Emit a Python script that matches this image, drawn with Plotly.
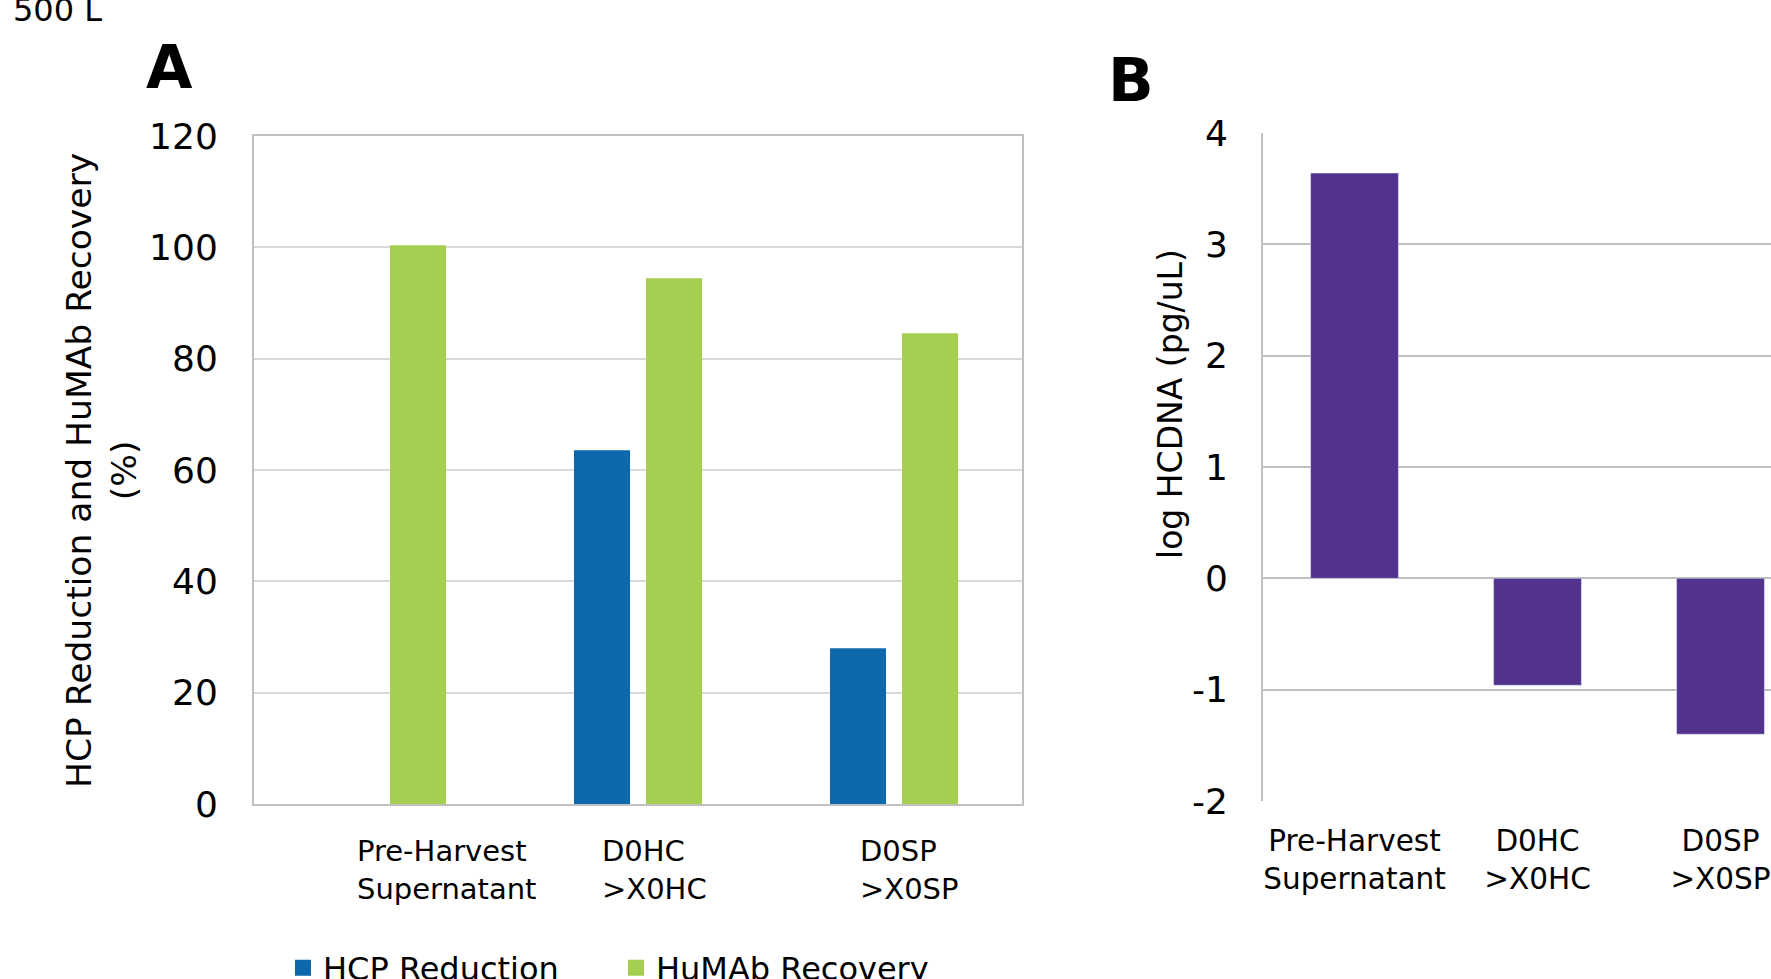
import plotly.graph_objects as go

# ---- data ----
categories = ["Pre-Harvest<br>Supernatant", "D0HC<br>>X0HC", "D0SP<br>>X0SP"]
cat_keys = ["PH", "D0HC", "D0SP"]
hcp_reduction = [None, 63.2, 27.6]
humab_recovery = [100.0, 94.1, 84.2]
log_hcdna = [3.64, -0.96, -1.40]
yticks_a = [0, 20, 40, 60, 80, 100, 120]
yticks_b = [-2, -1, 0, 1, 2, 3, 4]
yticks_b_text = ["-2", "-1", "0", "1", "2", "3", "4"]

W, H = 1771, 979
FONT = "DejaVu Sans"
BLUE = "#1068AC"
GREEN = "#A6CE50"
PURPLE = "#51328C"
GRID_A = "#D9D9D9"
GRID_B = "#BFBFBF"
BORDER = "#BFBFBF"

fig = go.Figure()
fig.add_trace(go.Bar(x=cat_keys, y=hcp_reduction, name="HCP Reduction",
                     marker=dict(color=BLUE, line=dict(color=BLUE, width=4)),
                     xaxis="x", yaxis="y"))
fig.add_trace(go.Bar(x=cat_keys, y=humab_recovery, name="HuMAb Recovery",
                     marker=dict(color=GREEN, line=dict(color=GREEN, width=4)),
                     xaxis="x", yaxis="y"))
fig.add_trace(go.Bar(x=[0, 1, 2], y=log_hcdna, name="log HCDNA",
                     marker_color=PURPLE, xaxis="x2", yaxis="y2",
                     width=0.48, showlegend=False))

def px(v):
    return v / W

def py(v):
    return 1 - v / H

annotations = []
# category labels panel A (left aligned text boxes)
offsets = [-27, -38, -36]
for key, lab, off in zip(cat_keys, categories, offsets):
    annotations.append(dict(x=key, xref="x", y=py(832), yref="paper",
                            text=lab, showarrow=False, xanchor="left",
                            yanchor="top", align="left", xshift=off,
                            font=dict(family=FONT, size=29, color="#000")))
# axis titles
annotations.append(dict(x=px(101), y=py(471), xref="paper", yref="paper",
                        text="HCP Reduction and HuMAb Recovery<br>(%)",
                        textangle=-90, showarrow=False, xanchor="center",
                        yanchor="middle", align="center",
                        font=dict(family=FONT, size=34.5, color="#000")))
annotations.append(dict(x=px(1171), y=py(404), xref="paper", yref="paper",
                        text="log HCDNA (pg/uL)", textangle=-90,
                        showarrow=False, xanchor="center", yanchor="middle",
                        font=dict(family=FONT, size=33, color="#000")))
# panel letters
annotations.append(dict(x=px(144), y=py(67), xref="paper", yref="paper",
                        text="<b>A</b>", showarrow=False, xanchor="left",
                        yanchor="middle",
                        font=dict(family=FONT, size=60, color="#000")))
annotations.append(dict(x=px(1106), y=py(80), xref="paper", yref="paper",
                        text="<b>B</b>", showarrow=False, xanchor="left",
                        yanchor="middle",
                        font=dict(family=FONT, size=60, color="#000")))
annotations.append(dict(x=px(11), y=py(10), xref="paper", yref="paper",
                        text="500 L", showarrow=False, xanchor="left",
                        yanchor="middle",
                        font=dict(family=FONT, size=32, color="#000")))

fig.update_layout(
    width=W, height=H,
    margin=dict(l=0, r=0, t=0, b=0, autoexpand=False),
    paper_bgcolor="white", plot_bgcolor="white",
    barmode="group", bargap=0.4375, bargroupgap=0.2775,
    font=dict(family=FONT, color="#000"),
    showlegend=True,
    legend=dict(orientation="h", x=px(283), y=py(968), xanchor="left",
                yanchor="middle", entrywidth=288, entrywidthmode="pixels",
                font=dict(family=FONT, size=32, color="#000"),
                bgcolor="rgba(0,0,0,0)"),
    xaxis=dict(domain=[px(254), px(1022)], anchor="y",
               type="category", showticklabels=False, ticks="",
               showline=True, linecolor=BORDER, linewidth=2, mirror=True,
               showgrid=False, zeroline=False, fixedrange=True),
    yaxis=dict(domain=[py(804), py(136)], anchor="x", range=[0, 120],
               tickvals=yticks_a, ticks="", ticklabelstandoff=27,
               tickfont=dict(family=FONT, size=36, color="#000"),
               showline=True, linecolor=BORDER, linewidth=2, mirror=True,
               showgrid=True, gridcolor=GRID_A, gridwidth=2,
               zeroline=False),
    xaxis2=dict(domain=[px(1263), 1.0], anchor="y2",
                range=[-0.5, -0.5 + (W - 1263) / 183.0],
                tickvals=[0, 1, 2], ticktext=categories, ticks="",
                ticklabelstandoff=19, ticklabeloverflow="allow",
                tickfont=dict(family=FONT, size=29.5, color="#000"),
                showline=False, showgrid=False, zeroline=False),
    yaxis2=dict(domain=[py(801), py(133)], anchor="x2", range=[-2, 4],
                tickvals=yticks_b, ticktext=yticks_b_text, ticks="",
                ticklabelstandoff=26,
                tickfont=dict(family=FONT, size=36, color="#000"),
                showline=True, linecolor=GRID_B, linewidth=2,
                showgrid=True, gridcolor=GRID_B, gridwidth=2,
                zeroline=False),
    annotations=annotations,
)

fig.write_html("out.html", config={"displayModeBar": False})
